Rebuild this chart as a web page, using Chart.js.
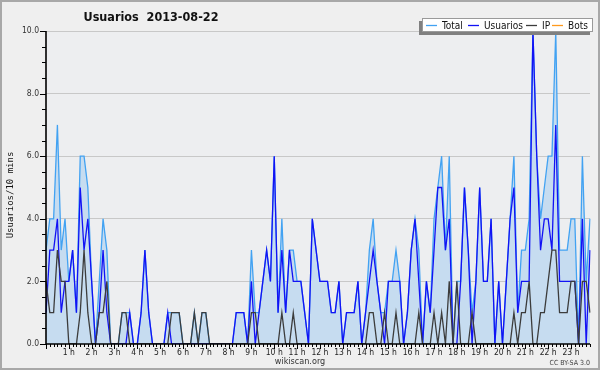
<!DOCTYPE html>
<html>
<head>
<meta charset="utf-8">
<script src="https://cdn.jsdelivr.net/npm/chart.js@4/dist/chart.umd.min.js"></script>
<style>
html,body{margin:0;padding:0;background:#efefef;}
canvas{display:block;}
</style>
</head>
<body>
<canvas id="c" width="600" height="370"></canvas>
<script>
// ---- data (10-minute intervals, 2013-08-22) ----
const titleText = 'Usuarios  2013-08-22';
const yAxisTitle = 'Usuarios/10 mins';
const hourLabels = ['1 h','2 h','3 h','4 h','5 h','6 h','7 h','8 h','9 h','10 h','11 h','12 h',
  '13 h','14 h','15 h','16 h','17 h','18 h','19 h','20 h','21 h','22 h','23 h'];
const yTickLabels = ['0.0','2.0','4.0','6.0','8.0','10.0'];

const totalSeries = [
 3,4,4,7,3,4,2,3,1,6, 6,5,2,0,2,4,3,0,0,0, 1,1,1,0,0,1,3,1,0,0,
 0,0,1,1,1,1,0,0,0,1, 0,1,1,0,0,0,0,0,0,0, 1,1,1,0,3,1,1,2,3,2,
 6,1,4,1,3,3,2,2,1,0, 4,3,2,2,2,1,1,2,0,1, 1,1,2,0,1,3,4,2,1,1,
 2,2,3,2,0,1,3,4,3,0, 2,1,4,5,6,3,6,0,2,2, 5,3,1,2,5,2,2,4,0,2,
 0,2,4,6,1,3,3,4,10,6, 4,5,6,6,10,3,3,3,4,4, 0,6,2,4];
const usuariosSeries = [
 1,3,3,4,1,2,2,3,1,5, 3,4,2,0,1,3,1,0,0,0, 0,0,1,0,0,1,3,1,0,0,
 0,0,1,0,0,0,0,0,0,0, 0,0,0,0,0,0,0,0,0,0, 1,1,1,0,2,0,1,2,3,2,
 6,1,3,1,3,2,2,2,1,0, 4,3,2,2,2,1,1,2,0,1, 1,1,2,0,1,2,3,2,1,0,
 2,2,2,2,0,1,3,4,2,0, 2,1,3,5,5,3,4,0,0,2, 5,3,0,2,5,2,2,4,0,2,
 0,2,4,5,1,2,2,2,10,6, 3,4,4,3,7,2,2,2,2,2, 0,4,0,3];
const ipSeries = [
 2,1,1,3,2,2,0,0,0,1, 3,1,0,0,1,1,2,0,0,0, 1,1,0,0,0,0,0,0,0,0,
 0,0,0,1,1,1,0,0,0,1, 0,1,1,0,0,0,0,0,0,0, 0,0,0,0,1,1,0,0,0,0,
 0,0,1,0,0,1,0,0,0,0, 0,0,0,0,0,0,0,0,0,0, 0,0,0,0,0,1,1,0,0,1,
 0,0,1,0,0,0,0,0,1,0, 0,0,1,0,1,0,2,0,2,0, 0,0,1,0,0,0,0,0,0,0,
 0,0,0,1,0,1,1,2,0,0, 1,1,2,3,3,1,1,1,2,2, 0,2,2,1];
const botsSeries = [
 0,0,0,0,0,0,0,0,0,0, 0,0,0,0,0,0,0,0,0,0, 0,0,0,0,0,0,0,0,0,0,
 0,0,0,0,0,0,0,0,0,0, 0,0,0,0,0,0,0,0,0,0, 0,0,0,0,0,0,0,0,0,0,
 0,0,0,0,0,0,0,0,0,0, 0,0,0,0,0,0,0,0,0,0, 0,0,0,0,0,0,0,0,0,0,
 0,0,0,0,0,0,0,0,0,0, 0,0,0,0,0,0,0,0,0,0, 0,0,0,0,0,0,0,0,0,0,
 0,0,0,0,0,0,0,0,0,0, 0,0,0,0,0,0,0,0,0,0, 0,0,0,0];

// time categories 00:00 .. 23:50
const categories = [];
for (let h = 0; h < 24; h++) for (let m = 0; m < 60; m += 10)
  categories.push(String(h).padStart(2,'0') + ':' + String(m).padStart(2,'0'));

const COND = '"DejaVu Sans Condensed", "DejaVu Sans", sans-serif';
const MONO = '"DejaVu Sans Mono", monospace';

const decorPlugin = {
  id: 'decor',
  beforeDraw(chart) {
    const ctx = chart.ctx;
    ctx.save();
    ctx.fillStyle = '#efefef';
    ctx.fillRect(0, 0, chart.width, chart.height);
    const a = chart.chartArea;
    ctx.fillStyle = '#edeef0';
    ctx.fillRect(a.left, a.top, a.right - a.left, a.bottom - a.top);
    ctx.restore();
  },
  afterDatasetsDraw(chart) {
    const ctx = chart.ctx;
    const a = chart.chartArea;
    const xs = chart.scales.x, ys = chart.scales.y;
    ctx.save();
    ctx.strokeStyle = '#000';
    ctx.lineWidth = 1.6;
    ctx.beginPath();
    ctx.moveTo(a.left, a.top);
    ctx.lineTo(a.left, a.bottom);
    ctx.lineTo(a.right, a.bottom);
    ctx.stroke();
    ctx.lineWidth = 1;
    for (let v = 0; v <= 10.001; v += 0.5) {
      const y = Math.round(ys.getPixelForValue(v)) + 0.5;
      const major = Math.abs(v % 2) < 1e-6;
      ctx.beginPath();
      ctx.moveTo(a.left - (major ? 6 : 4), y);
      ctx.lineTo(a.left, y);
      ctx.stroke();
    }
    for (let i = 0; i < categories.length; i++) {
      const x = Math.round(xs.getPixelForValue(i)) + 0.5;
      const major = i % 6 === 0;
      ctx.beginPath();
      ctx.moveTo(x, a.bottom);
      ctx.lineTo(x, a.bottom + (major ? 5 : 3));
      ctx.stroke();
    }
    ctx.restore();
  },
  afterDraw(chart) {
    const ctx = chart.ctx;
    ctx.save();
    ctx.fillStyle = '#111';
    ctx.font = 'bold 12.5px ' + COND;
    ctx.textAlign = 'center';
    ctx.textBaseline = 'alphabetic';
    ctx.fillText(titleText, 151, 21);
    ctx.save();
    ctx.translate(13, 195);
    ctx.rotate(-Math.PI / 2);
    ctx.font = '9px ' + MONO;
    ctx.fillStyle = '#111';
    ctx.textAlign = 'center';
    ctx.fillText(yAxisTitle, 0, 0);
    ctx.restore();
    ctx.fillStyle = '#333';
    ctx.font = '9px ' + COND;
    ctx.textAlign = 'center';
    ctx.fillText('wikiscan.org', 300, 364);
    ctx.font = '7px ' + COND;
    ctx.fillStyle = '#444';
    ctx.textAlign = 'right';
    ctx.fillText('CC BY-SA 3.0', 590, 365);
    // legend
    const bx = 422, by = 18, bw = 171, bh = 14;
    ctx.fillStyle = '#808080';
    ctx.fillRect(bx - 3, by + 3, bw, bh);
    ctx.fillStyle = '#ffffff';
    ctx.fillRect(bx, by, bw, bh);
    ctx.strokeStyle = '#9a9a9a';
    ctx.lineWidth = 1;
    ctx.strokeRect(bx + 0.5, by + 0.5, bw - 1, bh - 1);
    ctx.font = '10px ' + COND;
    ctx.textAlign = 'left';
    const itemX = [426, 468, 526, 552];
    chart.data.datasets.forEach((ds, k) => {
      const x = itemX[k];
      ctx.strokeStyle = ds.borderColor;
      ctx.lineWidth = 1.3;
      ctx.beginPath();
      ctx.moveTo(x, by + 7.5);
      ctx.lineTo(x + 11, by + 7.5);
      ctx.stroke();
      ctx.fillStyle = '#111';
      ctx.fillText(ds.label, x + 16, by + 11);
    });
    ctx.strokeStyle = '#a8a8a8';
    ctx.lineWidth = 2;
    ctx.strokeRect(1, 1, chart.width - 2, chart.height - 2);
    ctx.restore();
  }
};

new Chart(document.getElementById('c'), {
  type: 'line',
  data: {
    labels: categories,
    datasets: [
      { label: 'Total', data: totalSeries, borderColor: '#42a2f2', backgroundColor: '#c6dcf0',
        fill: 'origin', order: 4 },
      { label: 'Usuarios', data: usuariosSeries, borderColor: '#1212f5', backgroundColor: '#1212f5',
        fill: false, order: 2 },
      { label: 'IP', data: ipSeries, borderColor: '#3c3c3c', backgroundColor: '#3c3c3c',
        fill: false, order: 1 },
      { label: 'Bots', data: botsSeries, borderColor: '#ff9a1e', backgroundColor: '#ff9a1e',
        fill: false, order: 5 }
    ]
  },
  options: {
    responsive: false,
    animation: false,
    devicePixelRatio: 1,
    layout: { padding: { top: 31, right: 10, left: 0, bottom: 0 } },
    elements: { point: { radius: 0 }, line: { borderWidth: 1.3, tension: 0 } },
    plugins: { legend: { display: false }, title: { display: false }, tooltip: { enabled: false } },
    scales: {
      x: {
        type: 'category',
        offset: false,
        afterFit(s) { s.height = 26; },
        grid: { display: false, drawTicks: false },
        border: { display: false },
        ticks: {
          autoSkip: false, maxRotation: 0, minRotation: 0, padding: 4,
          color: '#222', font: { family: COND, size: 8.5 },
          callback(v, i) { return (i % 6 === 0 && i > 0) ? hourLabels[i / 6 - 1] : ''; }
        }
      },
      y: {
        min: 0, max: 10,
        afterFit(s) { s.width = 46; },
        border: { display: false },
        grid: {
          drawTicks: false,
          color: c => (Math.abs(c.tick.value % 2) < 1e-6 && c.tick.value > 0) ? '#c8c8c8' : 'rgba(0,0,0,0)',
          lineWidth: 1
        },
        ticks: {
          stepSize: 0.5, padding: 7, color: '#333', font: { family: COND, size: 8.5 },
          callback(v) { return Math.abs(v % 2) < 1e-6 ? yTickLabels[v / 2] : ''; }
        }
      }
    }
  },
  plugins: [decorPlugin]
});
</script>
</body>
</html>
